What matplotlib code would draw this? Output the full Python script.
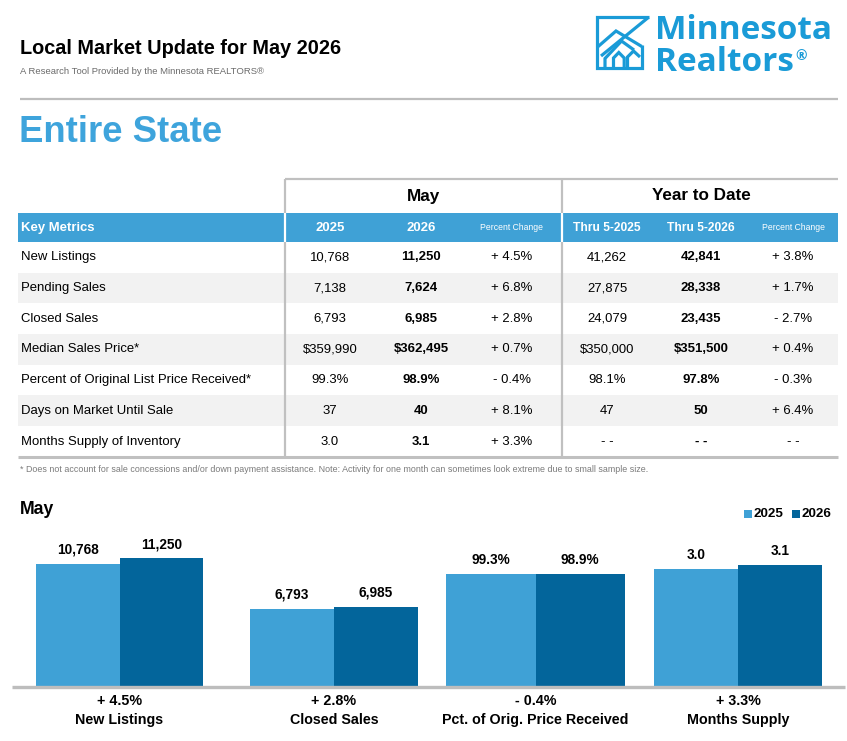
import matplotlib
matplotlib.use('Agg')
import matplotlib.pyplot as plt
from matplotlib.patches import Rectangle
from matplotlib.lines import Line2D
from matplotlib import font_manager

# ---------------- data ----------------
title = "Local Market Update for May 2026"
subtitle = "A Research Tool Provided by the Minnesota REALTORS®"
area = "Entire State"
logo_lines = ["Minnesota", "Realtors", "®"]

metrics = ["New Listings", "Pending Sales", "Closed Sales", "Median Sales Price*",
           "Percent of Original List Price Received*", "Days on Market Until Sale",
           "Months Supply of Inventory"]
may_2025 = ["10,768", "7,138", "6,793", "$359,990", "99.3%", "37", "3.0"]
may_2026 = ["11,250", "7,624", "6,985", "$362,495", "98.9%", "40", "3.1"]
may_pct = ["+ 4.5%", "+ 6.8%", "+ 2.8%", "+ 0.7%", "- 0.4%", "+ 8.1%", "+ 3.3%"]
ytd_2025 = ["41,262", "27,875", "24,079", "$350,000", "98.1%", "47", "- -"]
ytd_2026 = ["42,841", "28,338", "23,435", "$351,500", "97.8%", "50", "- -"]
ytd_pct = ["+ 3.8%", "+ 1.7%", "- 2.7%", "+ 0.4%", "- 0.3%", "+ 6.4%", "- -"]
header_cols = ["2025", "2026", "Percent Change", "Thru 5-2025", "Thru 5-2026", "Percent Change"]
footnote = ("* Does not account for sale concessions and/or down payment assistance. "
            "Note: Activity for one month can sometimes look extreme due to small sample size.")

bar_categories = ["New Listings", "Closed Sales", "Pct. of Orig. Price Received", "Months Supply"]
bar_2025 = [10768, 6793, 99.3, 3.0]
bar_2026 = [11250, 6985, 98.9, 3.1]
bar_fmt = ["{:,.0f}", "{:,.0f}", "{:.1f}%", "{:.1f}"]
bar_change = ["+ 4.5%", "+ 2.8%", "- 0.4%", "+ 3.3%"]
series_names = ["2025", "2026"]

# ---------------- style ----------------
W, H = 847, 741
available = {f.name for f in font_manager.fontManager.ttflist}
narrow_ok = "Liberation Sans Narrow" in available
NARROW = ["Liberation Sans Narrow", "Liberation Sans", "DejaVu Sans"]
FS = 1.0 if narrow_ok else 0.82
LOGO_FONT = ["Open Sans", "Roboto", "DejaVu Sans"]

LIGHT = "#3fa1d6"
DARK = "#03659b"
ENTIRE = "#3ea4dc"
LOGO = "#1a9bd7"
GRAY_ROW = "#f2f2f2"
RULE = "#c0c0c0"

fig = plt.figure(figsize=(W / 100, H / 100), dpi=100)
fig.patch.set_facecolor("white")


def fx(x):
    return x / W


def fy(y):
    return 1 - y / H


def txt(x, y, s, size, weight="normal", color="black", ha="left", family=None, va="center"):
    return fig.text(fx(x), fy(y), s, fontsize=size * FS if family is None else size,
                    fontweight=weight, color=color, ha=ha, va=va,
                    family=NARROW if family is None else family)


def rect(x0, y0, x1, y1, color):
    fig.add_artist(Rectangle((fx(x0), fy(y1)), fx(x1) - fx(x0), fy(y0) - fy(y1),
                             transform=fig.transFigure, facecolor=color,
                             edgecolor="none", zorder=0))


def line(pts, color, lw, z=2):
    xs = [fx(p[0]) for p in pts]
    ys = [fy(p[1]) for p in pts]
    fig.add_artist(Line2D(xs, ys, transform=fig.transFigure, color=color, lw=lw,
                          solid_capstyle="butt", solid_joinstyle="miter", zorder=z))


# ---------------- header ----------------
txt(20, 49, title, 17.5, weight="bold")
txt(20, 71, subtitle, 8.3, color="#6b6b6b")
line([(20, 99), (838, 99)], "#bdbdbd", 1.6)
txt(19, 132, area, 32, weight="bold", color=ENTIRE)

# logo icon
lw_icon = 2.3
line([(648.5, 17.3), (596.5, 17.3), (596.5, 67.8), (641.8, 67.8), (641.8, 45)], LOGO, lw_icon)
line([(648.5, 17.3), (601, 56)], LOGO, lw_icon)
line([(597, 47.5), (616, 31), (641.8, 46.5)], LOGO, lw_icon)
line([(605, 67.8), (605, 58.5), (621.5, 41), (634, 50)], LOGO, lw_icon)
line([(613.5, 67.8), (613.5, 58), (618.8, 52.5), (624.2, 58), (624.2, 67.8)], LOGO, lw_icon)
line([(627.5, 67.8), (627.5, 57), (633.5, 51), (640, 57)], LOGO, lw_icon)
txt(655, 38.6, logo_lines[0], 24, weight="bold", color=LOGO, family=LOGO_FONT, va="baseline")
t_real = txt(655, 71.4, logo_lines[1], 24, weight="bold", color=LOGO, family=LOGO_FONT, va="baseline")
renderer = fig.canvas.get_renderer()
bb = t_real.get_window_extent(renderer)
txt(bb.x1 + 1.5, 59.5, logo_lines[2], 10, weight="bold", color=LOGO, family=LOGO_FONT, va="baseline")

# ---------------- table ----------------
row_top = 242
row_h = 30.7
col_x = [330, 421, 512, 607, 701, 793]
for i in range(len(metrics)):
    if i % 2 == 1:
        rect(18, row_top + i * row_h, 838, row_top + (i + 1) * row_h, GRAY_ROW)
rect(18, 213, 838, 242, LIGHT)

line([(285, 179), (838, 179)], RULE, 1.6)
for vx in (285, 562):
    line([(vx, 179), (vx, 213)], RULE, 1.6)
    line([(vx, 213), (vx, 242)], "white", 1.6, z=3)
    line([(vx, 242), (vx, 457)], RULE, 1.6)
line([(18, 457), (838, 457)], RULE, 2.2)

txt(423, 196, "May", 15, weight="bold", ha="center")
txt(701, 196, "Year to Date", 15, weight="bold", ha="center")
txt(21, 228, "Key Metrics", 11.5, weight="bold", color="white")
for j, h in enumerate(header_cols):
    if h == "Percent Change":
        txt(col_x[j], 228, h, 7.6, color="white", ha="center")
    elif h.startswith("Thru"):
        txt(col_x[j], 228, h, 10.5, weight="bold", color="white", ha="center")
    else:
        txt(col_x[j], 228, h, 11.5, weight="bold", color="white", ha="center")

cols = [may_2025, may_2026, may_pct, ytd_2025, ytd_2026, ytd_pct]
for i, m in enumerate(metrics):
    yc = row_top + (i + 0.5) * row_h
    txt(21, yc, m, 11.5)
    for j, c in enumerate(cols):
        txt(col_x[j], yc, c[i], 11.5, weight="bold" if j in (1, 4) else "normal", ha="center")

txt(20, 470, footnote, 7.8, color="#7a7a7a")

# ---------------- bar chart ----------------
txt(20, 510, "May", 15.5, weight="bold")
# legend
for k, (sx, name) in enumerate(zip((744, 792), series_names)):
    rect(sx, 510, sx + 8, 518, LIGHT if k == 0 else DARK)
    txt(sx + 9, 514, name, 11.8, weight="bold")

base_y = 686
top_y = 530
groups_px = [(36, 203), (250, 418), (446, 625), (654, 822)]
ylims = [13750, 13750, 138.3, 4.0]
for i, (x0, x1) in enumerate(groups_px):
    ax = fig.add_axes([fx(x0), fy(base_y), fx(x1) - fx(x0), (base_y - top_y) / H])
    vals = [bar_2025[i], bar_2026[i]]
    ax.bar([0, 1], vals, width=1, align="edge", color=[LIGHT, DARK], linewidth=0)
    ax.set_xlim(0, 2)
    ax.set_ylim(0, ylims[i])
    ax.axis("off")
    for k, v in enumerate(vals):
        ax.annotate(bar_fmt[i].format(v), (k + 0.5, v), xytext=(0, 5),
                    textcoords="offset points", ha="center", va="bottom",
                    fontsize=12 * FS, fontweight="bold", family=NARROW,
                    annotation_clip=False)
    cx = (x0 + x1) / 2
    txt(cx, 701, bar_change[i], 12.5, weight="bold", ha="center")
    txt(cx, 720, bar_categories[i], 12.5, weight="bold", ha="center")

line([(12, 686.5), (845, 686.5)], "#bdbdbd", 2.4, z=5)

fig.savefig("out.png", dpi=100, facecolor="white")
